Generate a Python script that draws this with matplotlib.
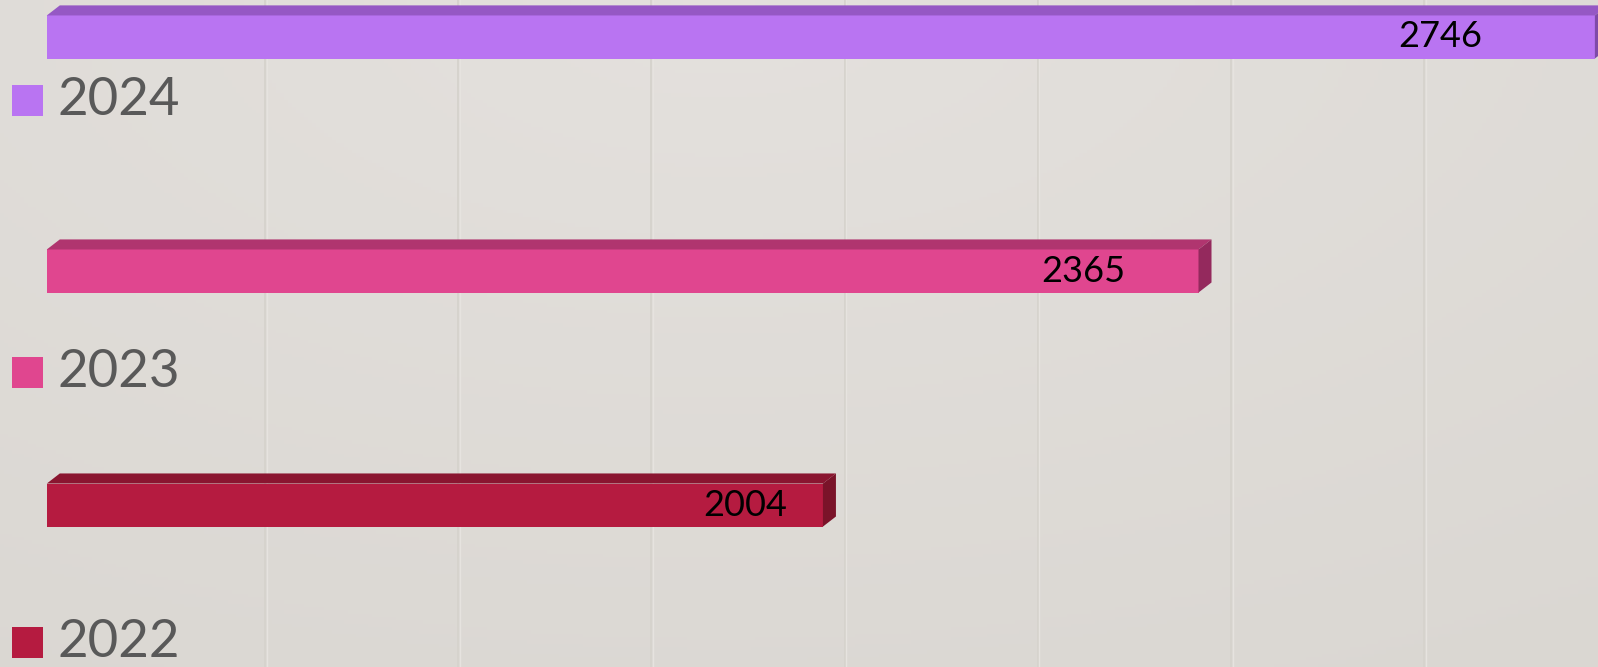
import numpy as np
import matplotlib
matplotlib.use("Agg")
import matplotlib.pyplot as plt
from matplotlib.patches import Rectangle, Polygon

# data (top to bottom in the picture: 2024, 2023, 2022)
years = ["2022", "2023", "2024"]
values = [2004, 2365, 2746]
front_colors = ["#b51b40", "#e0468f", "#b974f2"]
top_colors = ["#8a1530", "#b0356f", "#9558c4"]
side_colors = ["#7a1329", "#94295d", "#7f4aa8"]

base = 1258          # where the bars start
x_min, x_max = 1213, 2749
bar_h = 0.184
dx, dy = 12.5, 0.043  # 3d depth of the bars

fig = plt.figure(figsize=(15.98, 6.67), dpi=100)
ax = fig.add_axes([0, 0, 1, 1])
ax.set_xlim(x_min, x_max)
ax.set_ylim(-0.692, 2.158)
ax.axis("off")

# background: light beige with a soft glow near the top
gx, gy = np.meshgrid(np.linspace(0, 1, 400), np.linspace(0, 1, 200))
d = np.sqrt(((gx - 0.45) / 1.1) ** 2 + ((gy - 0.0) / 1.3) ** 2)
d = np.clip(d, 0, 1)
light = np.array([0.895, 0.882, 0.868])
dark = np.array([0.852, 0.840, 0.820])
img = light[None, None, :] * (1 - d[..., None]) + dark[None, None, :] * d[..., None]
ax.imshow(img, extent=[0, 1, 0, 1], transform=ax.transAxes, aspect="auto", zorder=0)

# faint vertical gridlines
for gxv in np.arange(1467.7, x_max, 185.7):
    ax.axvline(gxv, color="#d6d3cd", lw=1.4, zorder=1)
    ax.axvline(gxv + 1.5, color="#e6e3df", lw=1.0, zorder=1)

for i, (v, fc, tc, sc) in enumerate(zip(values, front_colors, top_colors, side_colors)):
    y0 = i - bar_h / 2
    y1 = i + bar_h / 2
    ax.add_patch(Rectangle((base, y0), v - base, bar_h, facecolor=fc, edgecolor="none", zorder=3))
    ax.add_patch(Polygon([(base, y1), (base + dx, y1 + dy), (v + dx, y1 + dy), (v, y1)],
                         closed=True, facecolor=tc, edgecolor="none", zorder=3))
    ax.add_patch(Polygon([(v, y0), (v, y1), (v + dx, y1 + dy), (v + dx, y0 + dy)],
                         closed=True, facecolor=sc, edgecolor="none", zorder=3))
    ax.text(base + 0.9 * (v - base), i, str(v), ha="center", va="center",
            fontsize=26, color="black", family="Lato", zorder=4)

# legend-like labels on the left
label_y = [0.036, 0.442, 0.850]
for yr, fc, ly in zip(years, front_colors, label_y):
    ax.add_patch(Rectangle((0.0075, ly - 0.0232), 0.0194, 0.0465, transform=ax.transAxes,
                           facecolor=fc, edgecolor="none", zorder=4))
    ax.text(0.036, ly, yr, transform=ax.transAxes, ha="left", va="center",
            fontsize=38, color="#595959", family="Lato", zorder=4)

fig.savefig("out.png", dpi=100)
